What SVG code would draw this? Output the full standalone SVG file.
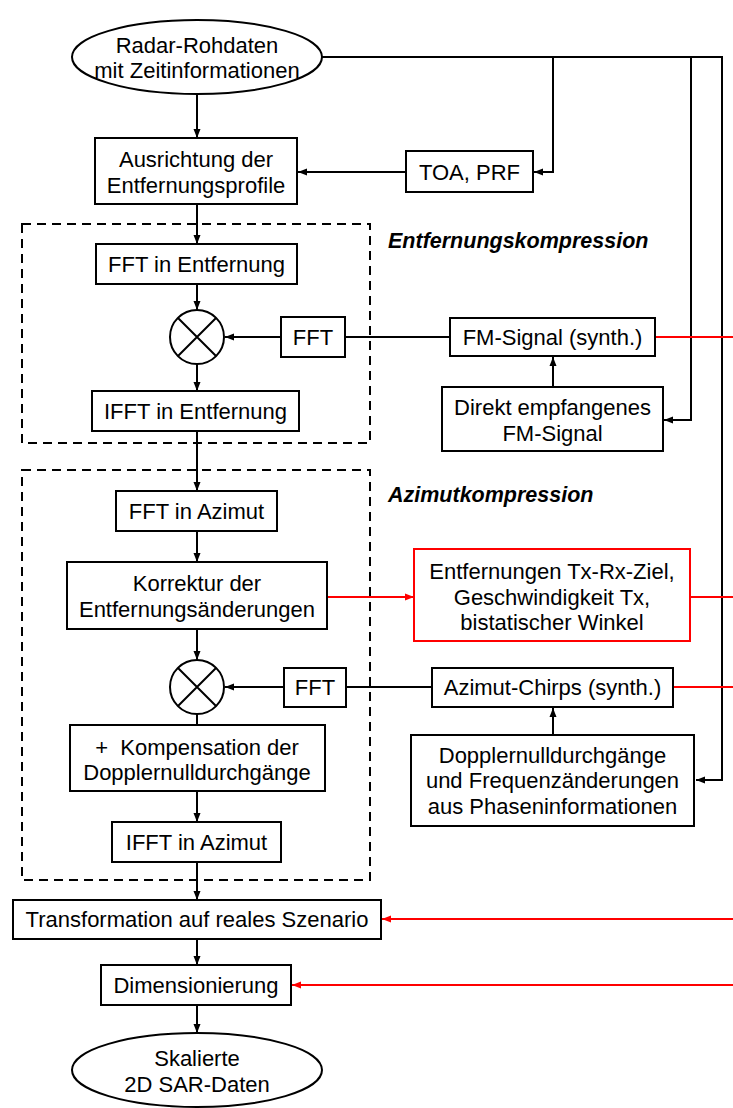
<svg xmlns="http://www.w3.org/2000/svg" width="733" height="1108" viewBox="0 0 733 1108">
<style>
.b{fill:#fff;stroke:#000;stroke-width:2}
.rb{fill:#fff;stroke:#f00;stroke-width:2}
.t{font-family:"Liberation Sans",Arial,sans-serif;font-size:22px;fill:#000;text-anchor:middle;dominant-baseline:central}
.h{font-family:"Liberation Sans",Arial,sans-serif;font-size:21.5px;font-weight:bold;font-style:italic;fill:#000}
.c{fill:none;stroke:#000;stroke-width:2}
.r{fill:none;stroke:#f00;stroke-width:2}
.d{fill:none;stroke:#000;stroke-width:2;stroke-dasharray:9,6}
</style>
<defs>
<marker id="a" markerUnits="userSpaceOnUse" markerWidth="10" markerHeight="8" refX="9" refY="4" orient="auto"><path d="M0,0.5 L9,4 L0,7.5 z" fill="#000"/></marker>
<marker id="ar" markerUnits="userSpaceOnUse" markerWidth="10" markerHeight="8" refX="9" refY="4" orient="auto"><path d="M0,0.5 L9,4 L0,7.5 z" fill="#f00"/></marker>
</defs>
<g id="frames">
<rect class="d" x="22" y="224" width="348" height="219"/>
<rect class="d" x="22" y="470" width="348" height="410"/>
<text class="h" x="388" y="248">Entfernungskompression</text>
<text class="h" x="388" y="502">Azimutkompression</text>
</g>
<g id="connectors">
<path class="c" d="M322,57 H722 V780 H696" marker-end="url(#a)"/>
<path class="c" d="M553,57 V172 H534" marker-end="url(#a)"/>
<path class="c" d="M691,57 V420 H664" marker-end="url(#a)"/>
<path class="c" d="M197,94 V138" marker-end="url(#a)"/>
<path class="c" d="M406,172 H298" marker-end="url(#a)"/>
<path class="c" d="M197,204 V244" marker-end="url(#a)"/>
<path class="c" d="M197,284 V310" marker-end="url(#a)"/>
<path class="c" d="M281,337 H225" marker-end="url(#a)"/>
<path class="c" d="M450,337 H345"/>
<path class="c" d="M553,387 V357" marker-end="url(#a)"/>
<path class="c" d="M197,364 V391" marker-end="url(#a)"/>
<path class="c" d="M197,431 V491" marker-end="url(#a)"/>
<path class="c" d="M197,531 V562" marker-end="url(#a)"/>
<path class="r" d="M327,597 H414" marker-end="url(#ar)"/>
<path class="c" d="M197,629 V660" marker-end="url(#a)"/>
<path class="c" d="M284,687 H225" marker-end="url(#a)"/>
<path class="c" d="M432,687 H346"/>
<path class="c" d="M553,735 V708" marker-end="url(#a)"/>
<path class="c" d="M197,714 V725"/>
<path class="c" d="M197,791 V822" marker-end="url(#a)"/>
<path class="c" d="M197,862 V900" marker-end="url(#a)"/>
<path class="c" d="M197,939 V965" marker-end="url(#a)"/>
<path class="c" d="M197,1005 V1033" marker-end="url(#a)"/>
<path class="r" d="M655,337 H733"/>
<path class="r" d="M690,597 H733"/>
<path class="r" d="M673,687 H733"/>
<path class="r" d="M733,919 H382" marker-end="url(#ar)"/>
<path class="r" d="M733,985 H292" marker-end="url(#ar)"/>
</g>
<g id="n_input">
<ellipse class="b" cx="197" cy="57" rx="125" ry="37"/>
<text class="t" x="197" y="45">Radar-Rohdaten</text>
<text class="t" x="197" y="70">mit Zeitinformationen</text>
</g>
<g id="n_ausrichtung">
<rect class="b" x="95" y="138" width="202" height="66"/>
<text class="t" x="196" y="159">Ausrichtung der</text>
<text class="t" x="196" y="185">Entfernungsprofile</text>
</g>
<g id="n_toa">
<rect class="b" x="406" y="151" width="127" height="41"/>
<text class="t" x="469.5" y="172">TOA, PRF</text>
</g>
<g id="n_fft_ent">
<rect class="b" x="96" y="244" width="201" height="40"/>
<text class="t" x="196.5" y="264">FFT in Entfernung</text>
</g>
<g id="n_mult1">
<circle class="b" cx="197" cy="337" r="27"/>
<path class="c" d="M178,318 L216,356 M216,318 L178,356"/>
</g>
<g id="n_fft1">
<rect class="b" x="281" y="317" width="64" height="40"/>
<text class="t" x="313" y="337">FFT</text>
</g>
<g id="n_fm">
<rect class="b" x="450" y="318" width="205" height="38"/>
<text class="t" x="552.5" y="337">FM-Signal (synth.)</text>
</g>
<g id="n_direkt">
<rect class="b" x="442" y="387" width="221" height="64"/>
<text class="t" x="552.5" y="407">Direkt empfangenes</text>
<text class="t" x="552.5" y="433">FM-Signal</text>
</g>
<g id="n_ifft_ent">
<rect class="b" x="92" y="391" width="207" height="40"/>
<text class="t" x="195.5" y="411">IFFT in Entfernung</text>
</g>
<g id="n_fft_az">
<rect class="b" x="116" y="491" width="161" height="40"/>
<text class="t" x="196.5" y="511">FFT in Azimut</text>
</g>
<g id="n_korrektur">
<rect class="b" x="67" y="562" width="260" height="67"/>
<text class="t" x="197" y="583">Korrektur der</text>
<text class="t" x="197" y="609">Entfernungsänderungen</text>
</g>
<g id="n_geo">
<rect class="rb" x="414" y="549" width="276" height="92"/>
<text class="t" x="552" y="571">Entfernungen Tx-Rx-Ziel,</text>
<text class="t" x="552" y="597">Geschwindigkeit Tx,</text>
<text class="t" x="552" y="622">bistatischer Winkel</text>
</g>
<g id="n_mult2">
<circle class="b" cx="197" cy="687" r="27"/>
<path class="c" d="M178,668 L216,706 M216,668 L178,706"/>
</g>
<g id="n_fft2">
<rect class="b" x="284" y="668" width="62" height="39"/>
<text class="t" x="315" y="687.5">FFT</text>
</g>
<g id="n_chirps">
<rect class="b" x="432" y="668" width="241" height="39"/>
<text class="t" x="552.5" y="687.5">Azimut-Chirps (synth.)</text>
</g>
<g id="n_doppler">
<rect class="b" x="411" y="735" width="283" height="91"/>
<text class="t" x="552.5" y="755">Dopplernulldurchgänge</text>
<text class="t" x="552.5" y="780">und Frequenzänderungen</text>
<text class="t" x="552.5" y="806">aus Phaseninformationen</text>
</g>
<g id="n_kompensation">
<rect class="b" x="70" y="725" width="255" height="66"/>
<text class="t" x="197" y="747">+&#160; Kompensation der</text>
<text class="t" x="197" y="772">Dopplernulldurchgänge</text>
</g>
<g id="n_ifft_az">
<rect class="b" x="112" y="822" width="169" height="40"/>
<text class="t" x="196.5" y="842">IFFT in Azimut</text>
</g>
<g id="n_transformation">
<rect class="b" x="13" y="900" width="368" height="39"/>
<text class="t" x="197" y="919.5">Transformation auf reales Szenario</text>
</g>
<g id="n_dim">
<rect class="b" x="101" y="965" width="190" height="40"/>
<text class="t" x="196" y="985">Dimensionierung</text>
</g>
<g id="n_output">
<ellipse class="b" cx="197" cy="1070" rx="125" ry="37"/>
<text class="t" x="197" y="1058">Skalierte</text>
<text class="t" x="197" y="1084">2D SAR-Daten</text>
</g>
</svg>
